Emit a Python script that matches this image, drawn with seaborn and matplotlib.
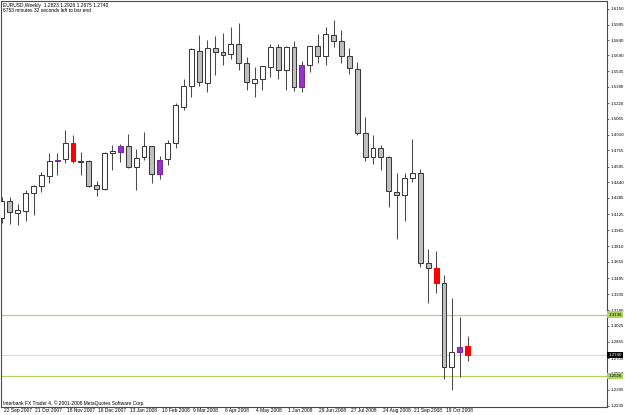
import matplotlib
matplotlib.use("Agg")
import matplotlib.pyplot as plt
from matplotlib import font_manager
import seaborn as sns
import numpy as np

# ---------------- data (EURUSD weekly) ----------------
opens = [1.4091, 1.4258, 1.4140, 1.4160, 1.4331, 1.4403, 1.4502, 1.4650, 1.4669, 1.4827,
         1.4650, 1.4645, 1.4413, 1.4374, 1.4728, 1.4738, 1.4797, 1.4590, 1.4689, 1.4797,
         1.4521, 1.4669, 1.4827, 1.5182, 1.5389, 1.5734, 1.5420, 1.5764, 1.5724, 1.5705,
         1.5803, 1.5616, 1.5419, 1.5458, 1.5576, 1.5774, 1.5547, 1.5774, 1.5379, 1.5596,
         1.5783, 1.5685, 1.5892, 1.5833, 1.5685, 1.5557, 1.4926, 1.4689, 1.4778, 1.4689,
         1.4344, 1.4314, 1.4482, 1.4531, 1.3644, 1.3595, 1.3447, 1.2618, 1.2766, 1.2823]
highs = [1.4295, 1.4295, 1.4226, 1.4364, 1.4410, 1.4544, 1.4728, 1.4728, 1.4955, 1.4906,
         1.4738, 1.4655, 1.4452, 1.4738, 1.4807, 1.4817, 1.4916, 1.4768, 1.4936, 1.4800,
         1.4699, 1.4857, 1.5224, 1.5458, 1.5764, 1.5892, 1.5843, 1.5882, 1.5912, 1.5971,
         1.6010, 1.5675, 1.5576, 1.5590, 1.5803, 1.5803, 1.5780, 1.5833, 1.5636, 1.5787,
         1.5902, 1.5971, 1.6040, 1.5941, 1.5764, 1.5626, 1.5083, 1.4906, 1.4807, 1.4699,
         1.4531, 1.4531, 1.4866, 1.4571, 1.3782, 1.3762, 1.3526, 1.3299, 1.3111, 1.2926]
lows = [1.4038, 1.4028, 1.4023, 1.4058, 1.4117, 1.4347, 1.4433, 1.4512, 1.4630, 1.4630,
        1.4512, 1.4393, 1.4304, 1.4364, 1.4561, 1.4640, 1.4585, 1.4364, 1.4659, 1.4433,
        1.4472, 1.4610, 1.4778, 1.5152, 1.5281, 1.5389, 1.5330, 1.5498, 1.5596, 1.5655,
        1.5547, 1.5350, 1.5281, 1.5350, 1.5478, 1.5458, 1.5350, 1.5340, 1.5330, 1.5527,
        1.5616, 1.5596, 1.5774, 1.5616, 1.5507, 1.4906, 1.4650, 1.4620, 1.4561, 1.4196,
        1.3880, 1.4058, 1.4442, 1.3604, 1.3249, 1.3348, 1.2500, 1.2392, 1.2520, 1.2675]
closes = [1.4258, 1.4144, 1.4166, 1.4334, 1.4403, 1.4512, 1.4650, 1.4659, 1.4827, 1.4650,
          1.4640, 1.4403, 1.4374, 1.4728, 1.4748, 1.4797, 1.4590, 1.4679, 1.4797, 1.4521,
          1.4659, 1.4827, 1.5202, 1.5389, 1.5754, 1.5429, 1.5764, 1.5724, 1.5695, 1.5803,
          1.5616, 1.5429, 1.5458, 1.5586, 1.5774, 1.5547, 1.5774, 1.5379, 1.5596, 1.5783,
          1.5685, 1.5902, 1.5833, 1.5685, 1.5567, 1.4926, 1.4689, 1.4778, 1.4689, 1.4354,
          1.4314, 1.4482, 1.4531, 1.3644, 1.3595, 1.3447, 1.2618, 1.2766, 1.2816, 1.2740]
# highlighted bars (indicator colouring)
red_bars = [9, 55, 59]
purple_bars = [7, 15, 20, 38, 58]

date_labels = ["22 Sep 2007", "21 Oct 2007", "18 Nov 2007", "16 Dec 2007", "13 Jan 2008",
               "10 Feb 2008", "9 Mar 2008", "6 Apr 2008", "4 May 2008", "1 Jun 2008",
               "29 Jun 2008", "27 Jul 2008", "24 Aug 2008", "21 Sep 2008", "19 Oct 2008"]
date_positions = [0, 4, 8, 12, 16, 20, 24, 28, 32, 36, 40, 44, 48, 52, 56]

price_ticks = [1.6150, 1.5995, 1.5840, 1.5690, 1.5535, 1.5380, 1.5220, 1.5065, 1.4910,
               1.4755, 1.4595, 1.4440, 1.4285, 1.4125, 1.3965, 1.3810, 1.3655, 1.3495,
               1.3335, 1.3180, 1.3025, 1.2865, 1.2705, 1.2550, 1.2395, 1.2235]

hlines_green = [1.3136, 1.2526]
current_price = 1.2740

header1 = "EURUSD,Weekly  1.2823 1.2926 1.2675 1.2740"
header2 = "6753 minutes 32 seconds left to bar end"
footer = "Interbank FX Trader 4, \u00a9 2001-2008 MetaQuotes Software Corp."

# ---------------- style ----------------
sns.set_theme(style="white")
names = {f.name for f in font_manager.fontManager.ttflist}
narrow = "Liberation Sans Narrow" if "Liberation Sans Narrow" in names else "Liberation Sans"
FONT = [narrow, "DejaVu Sans"]
plt.rcParams["font.family"] = FONT
FS = 3.5
FSY = 3.2

W, H = 625, 415
fig = plt.figure(figsize=(W / 100, H / 100), dpi=100)
fig.patch.set_facecolor("white")
ax_l, ax_r, ax_t, ax_b = 0.5, 607, 1, 407
ax = fig.add_axes([ax_l / W, 1 - ax_b / H, (ax_r - ax_l) / W, (ax_b - ax_t) / H])
ax.set_facecolor("white")

n = len(opens)
x = np.arange(n)
o = np.array(opens); c = np.array(closes); hi = np.array(highs); lo = np.array(lows)

EDGE = "#3a3a3a"
WICK = "#4a4a4a"
# wicks
ax.vlines(x, lo, hi, color=WICK, lw=0.75, zorder=2)
# bodies
face = []
edge = []
for i in range(n):
    if i in red_bars:
        face.append("#ff0000"); edge.append("#ff0000")
    elif i in purple_bars:
        face.append("#9a30c8"); edge.append("#7a2aa0")
    elif c[i] >= o[i]:
        face.append("white"); edge.append(EDGE)
    else:
        face.append("#c0c0c0"); edge.append(EDGE)
bottoms = np.minimum(o, c)
heights = np.maximum(np.abs(c - o), 0.0004)
ax.bar(x, heights, bottom=bottoms, width=0.62, color=face, edgecolor=edge,
       linewidth=0.75, zorder=3)

# horizontal lines
for v in hlines_green:
    ax.axhline(v, color="#aed45e", lw=0.8, zorder=1)
ax.axhline(current_price, color="#d9d9d9", lw=0.8, zorder=1)

# axes limits (px -> price: 1.6237 - 0.000986*y)
ax.set_xlim(-0.18, 76.64)
ax.set_ylim(1.2224, 1.6227)

for s in ax.spines.values():
    s.set_color("#4a4a4a")
    s.set_linewidth(0.8)

# y axis on right
ax.yaxis.tick_right()
ax.set_yticks(price_ticks)
ax.set_yticklabels([f"{v:.4f}" for v in price_ticks], fontsize=FSY, color="black")
ax.tick_params(axis="y", direction="out", length=1.5, width=0.6, color="#4a4a4a", pad=0.8)

# x axis ticks (labels as text, left aligned after tick)
ax.set_xticks(date_positions)
ax.set_xticklabels([])
ax.tick_params(axis="x", direction="out", length=5, width=0.6, color="#4a4a4a", pad=0)
for p, lab in zip(date_positions, date_labels):
    ax.text(p + 0.22, -0.0098, lab, transform=ax.get_xaxis_transform(),
            fontsize=FS, ha="left", va="center", clip_on=False, color="black")

# price highlight labels
ytr = ax.get_yaxis_transform()
for v in hlines_green:
    ax.text(1.0022, v, f"{v:.4f}", transform=ytr, fontsize=FSY, ha="left", va="center",
            color="black", clip_on=False, zorder=10,
            bbox=dict(boxstyle="square,pad=0.25", fc="#aed45e", ec="none"))
ax.text(1.0022, current_price, f"{current_price:.4f}", transform=ytr, fontsize=FSY,
        ha="left", va="center", color="white", clip_on=False, zorder=10,
        bbox=dict(boxstyle="square,pad=0.25", fc="black", ec="none"))

# header / footer texts
fig.text(3 / W, 1 - 5 / H, header1, fontsize=FS, ha="left", va="center", color="black")
fig.text(3 / W, 1 - 10.5 / H, header2, fontsize=FS, ha="left", va="center", color="black")
fig.text(3 / W, 1 - 403 / H, footer, fontsize=FS, ha="left", va="center", color="black")

fig.savefig("out.png", dpi=100, facecolor="white")
